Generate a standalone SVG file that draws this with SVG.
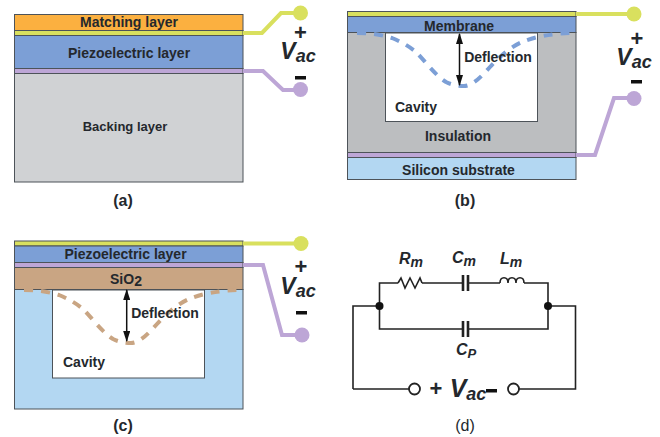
<svg xmlns="http://www.w3.org/2000/svg" width="660" height="437" viewBox="0 0 660 437">
<style>
text{font-family:"Liberation Sans",Arial,sans-serif;font-weight:bold;fill:#24282d;text-anchor:middle}
.l{font-size:14px}
.cap{font-size:16px}
.box{stroke:#4d5359;stroke-width:1}
.g{fill:#d9e05e}.p{fill:#bda6d6}
.gw{fill:none;stroke:#d9e05e;stroke-width:4}
.pw{fill:none;stroke:#bda6d6;stroke-width:4}
.v{font-size:23px;font-style:italic}
.v tspan{font-size:18px}
.sign{font-size:22px}
.w{fill:none;stroke:#222;stroke-width:1.6}
.cp{fill:none;stroke:#222;stroke-width:2.600}
.sym{font-size:16px;font-style:italic}
.sym tspan{font-size:14px}
.dash{fill:none;stroke-width:4;stroke-dasharray:9 8}
.arrow{stroke:#111;stroke-width:1.5;marker-start:url(#ah);marker-end:url(#ah)}
</style>
<defs>
<marker id="ah" viewBox="0 0 10 10" refX="9" refY="5" markerWidth="11" markerHeight="7" orient="auto-start-reverse" markerUnits="userSpaceOnUse" preserveAspectRatio="none"><path d="M0 0L10 5L0 10Z" fill="#111"/></marker>
</defs>
<rect width="660" height="437" fill="#fff"/>

<g id="panel-a">
<rect class="box" x="14.5" y="14.5" width="228.500" height="16" fill="#fbb040"/>
<rect class="box" x="14.5" y="30.500" width="228.500" height="5" fill="#d9e05e"/>
<rect class="box" x="14.5" y="35.500" width="228.500" height="33" fill="#7c9fd6"/>
<rect class="box" x="14.5" y="68.500" width="228.500" height="5" fill="#bda6d6"/>
<rect class="box" x="14.5" y="73.500" width="228.500" height="108.500" fill="#d0d2d4"/>
<text class="l" x="129" y="27">Matching layer</text>
<text class="l" x="129" y="58">Piezoelectric layer</text>
<text class="l" x="125" y="131" style="font-size:13px">Backing layer</text>
<text class="cap" x="123" y="206">(a)</text>
<text class="sign" x="300.500" y="40">+</text>
<text class="v" x="298" y="59">V<tspan dy="3">ac</tspan></text>
<rect x="295" y="76" width="11" height="3.500" fill="#111"/>
</g>

<g id="panel-b">
<rect class="box" x="347.500" y="11.500" width="228.500" height="5" fill="#d9e05e"/>
<rect class="box" x="347.500" y="16.500" width="228.500" height="16" fill="#7c9fd6"/>
<rect class="box" x="347.500" y="32.500" width="228.500" height="120" fill="#bcbec0"/>
<rect class="box" x="347.500" y="152.500" width="228.500" height="5" fill="#bda6d6"/>
<rect class="box" x="347.500" y="157.500" width="228.500" height="22" fill="#b3d7f2"/>
<rect class="box" x="385.500" y="33" width="152" height="88.500" fill="#fff"/>
<path class="dash" stroke="#7c9fd6" d="M357 33C372 33 382 35 392 38C402 42 410 47 416 52C424 60 436 76 446 82C452 85 458 86 464 86C472 86 480 78 490 67C500 56 512 46 522 42C534 37 552 33 576 33"/>
<text class="l" x="459" y="31">Membrane</text>
<text class="l" x="498" y="62">Deflection</text>
<text class="l" x="416" y="112">Cavity</text>
<text class="l" x="458" y="141">Insulation</text>
<text class="l" x="458.500" y="175">Silicon substrate</text>
<text class="cap" x="465" y="206">(b)</text>
<line class="arrow" x1="459.500" y1="34" x2="459.500" y2="85"/>
<text class="sign" x="637" y="46">+</text>
<text class="v" x="634" y="65">V<tspan dy="3">ac</tspan></text>
<rect x="631" y="80" width="11" height="3.500" fill="#111"/>
</g>

<g id="panel-c">
<rect class="box" x="14.500" y="241" width="228.500" height="5" fill="#d9e05e"/>
<rect class="box" x="14.500" y="246" width="228.500" height="16.500" fill="#7c9fd6"/>
<rect class="box" x="14.500" y="262.500" width="228.500" height="5" fill="#bda6d6"/>
<rect class="box" x="14.500" y="267.500" width="228.500" height="22" fill="#c9a583"/>
<rect class="box" x="14.500" y="289.500" width="228.500" height="119.500" fill="#b3d7f2"/>
<rect class="box" x="52.500" y="290" width="152" height="88" fill="#fff"/>
<path class="dash" stroke="#c9a583" d="M24 290C39 290 49 292 59 295C69 299 77 304 83 309C91 317 103 333 113 339C119 342 125 343 131 343C139 343 147 335 157 324C167 313 179 303 189 299C201 294 219 290 243 290"/>
<text class="l" x="125.500" y="259">Piezoelectric layer</text>
<text class="l" x="126" y="284">SiO<tspan dy="2">2</tspan></text>
<text class="l" x="165" y="318">Deflection</text>
<text class="l" x="84" y="367">Cavity</text>
<text class="cap" x="123" y="431">(c)</text>
<line class="arrow" x1="126.700" y1="290" x2="126.700" y2="341"/>
<text class="sign" x="301" y="274">+</text>
<text class="v" x="298" y="294">V<tspan dy="3">ac</tspan></text>
<rect x="296" y="311" width="11" height="3.500" fill="#111"/>
</g>

<g id="panel-d">
<path class="w" d="M353 389V306H379.500M379.500 306V283H398M422 283H463M468 283H500M524 283H548V329H468M463 329H379.500V306M548 306H575.500V389H519M353 389H409"/>
<path class="w" d="M398 283L401 278L405 288L410 278L415 288L420 278L422 283"/>
<path class="w" d="M500 283C500 276 508 276 508 283C508 276 516 276 516 283C516 276 524 276 524 283"/>
<path class="cp" d="M463 275V291M468 275V291M463 321V337M468 321V337"/>
<circle cx="379.500" cy="306" r="4" fill="#111"/>
<circle cx="548" cy="306" r="4" fill="#111"/>
<circle cx="414.500" cy="389" r="5.500" fill="#fff" stroke="#222" stroke-width="1.800"/>
<circle cx="513.500" cy="389" r="5.500" fill="#fff" stroke="#222" stroke-width="1.800"/>
<text class="sym" x="411" y="264">R<tspan dy="3">m</tspan></text>
<text class="sym" x="464" y="263">C<tspan dy="3">m</tspan></text>
<text class="sym" x="511" y="264">L<tspan dy="3">m</tspan></text>
<text class="sym" x="466" y="355">C<tspan dy="3" style="font-size:13px">P</tspan></text>
<text class="sign" x="436" y="396">+</text>
<text class="v" x="468" y="397" style="font-size:25px">V<tspan dy="3">ac</tspan></text>
<rect x="486" y="389" width="11" height="3.500" fill="#111"/>
<text class="cap" x="465" y="431" style="font-weight:normal">(d)</text>
</g>

<g id="connectors">
<path class="gw" d="M243 33H262L281 13H300"/>
<circle class="g" cx="300.500" cy="13" r="7.500"/>
<path class="pw" d="M243 71H263L283 90H300"/>
<circle class="p" cx="300.500" cy="89.500" r="7.500"/>
<path class="gw" d="M576 14H634"/>
<circle class="g" cx="634" cy="14" r="7.500"/>
<path class="pw" d="M576 155H595L614 98H634"/>
<circle class="p" cx="634" cy="98.500" r="7.500"/>
<path class="gw" d="M243 243.500H300"/>
<circle class="g" cx="301" cy="243.500" r="7.500"/>
<path class="pw" d="M243 265H263L282 335H301"/>
<circle class="p" cx="302" cy="335" r="7.500"/>
</g>
</svg>
